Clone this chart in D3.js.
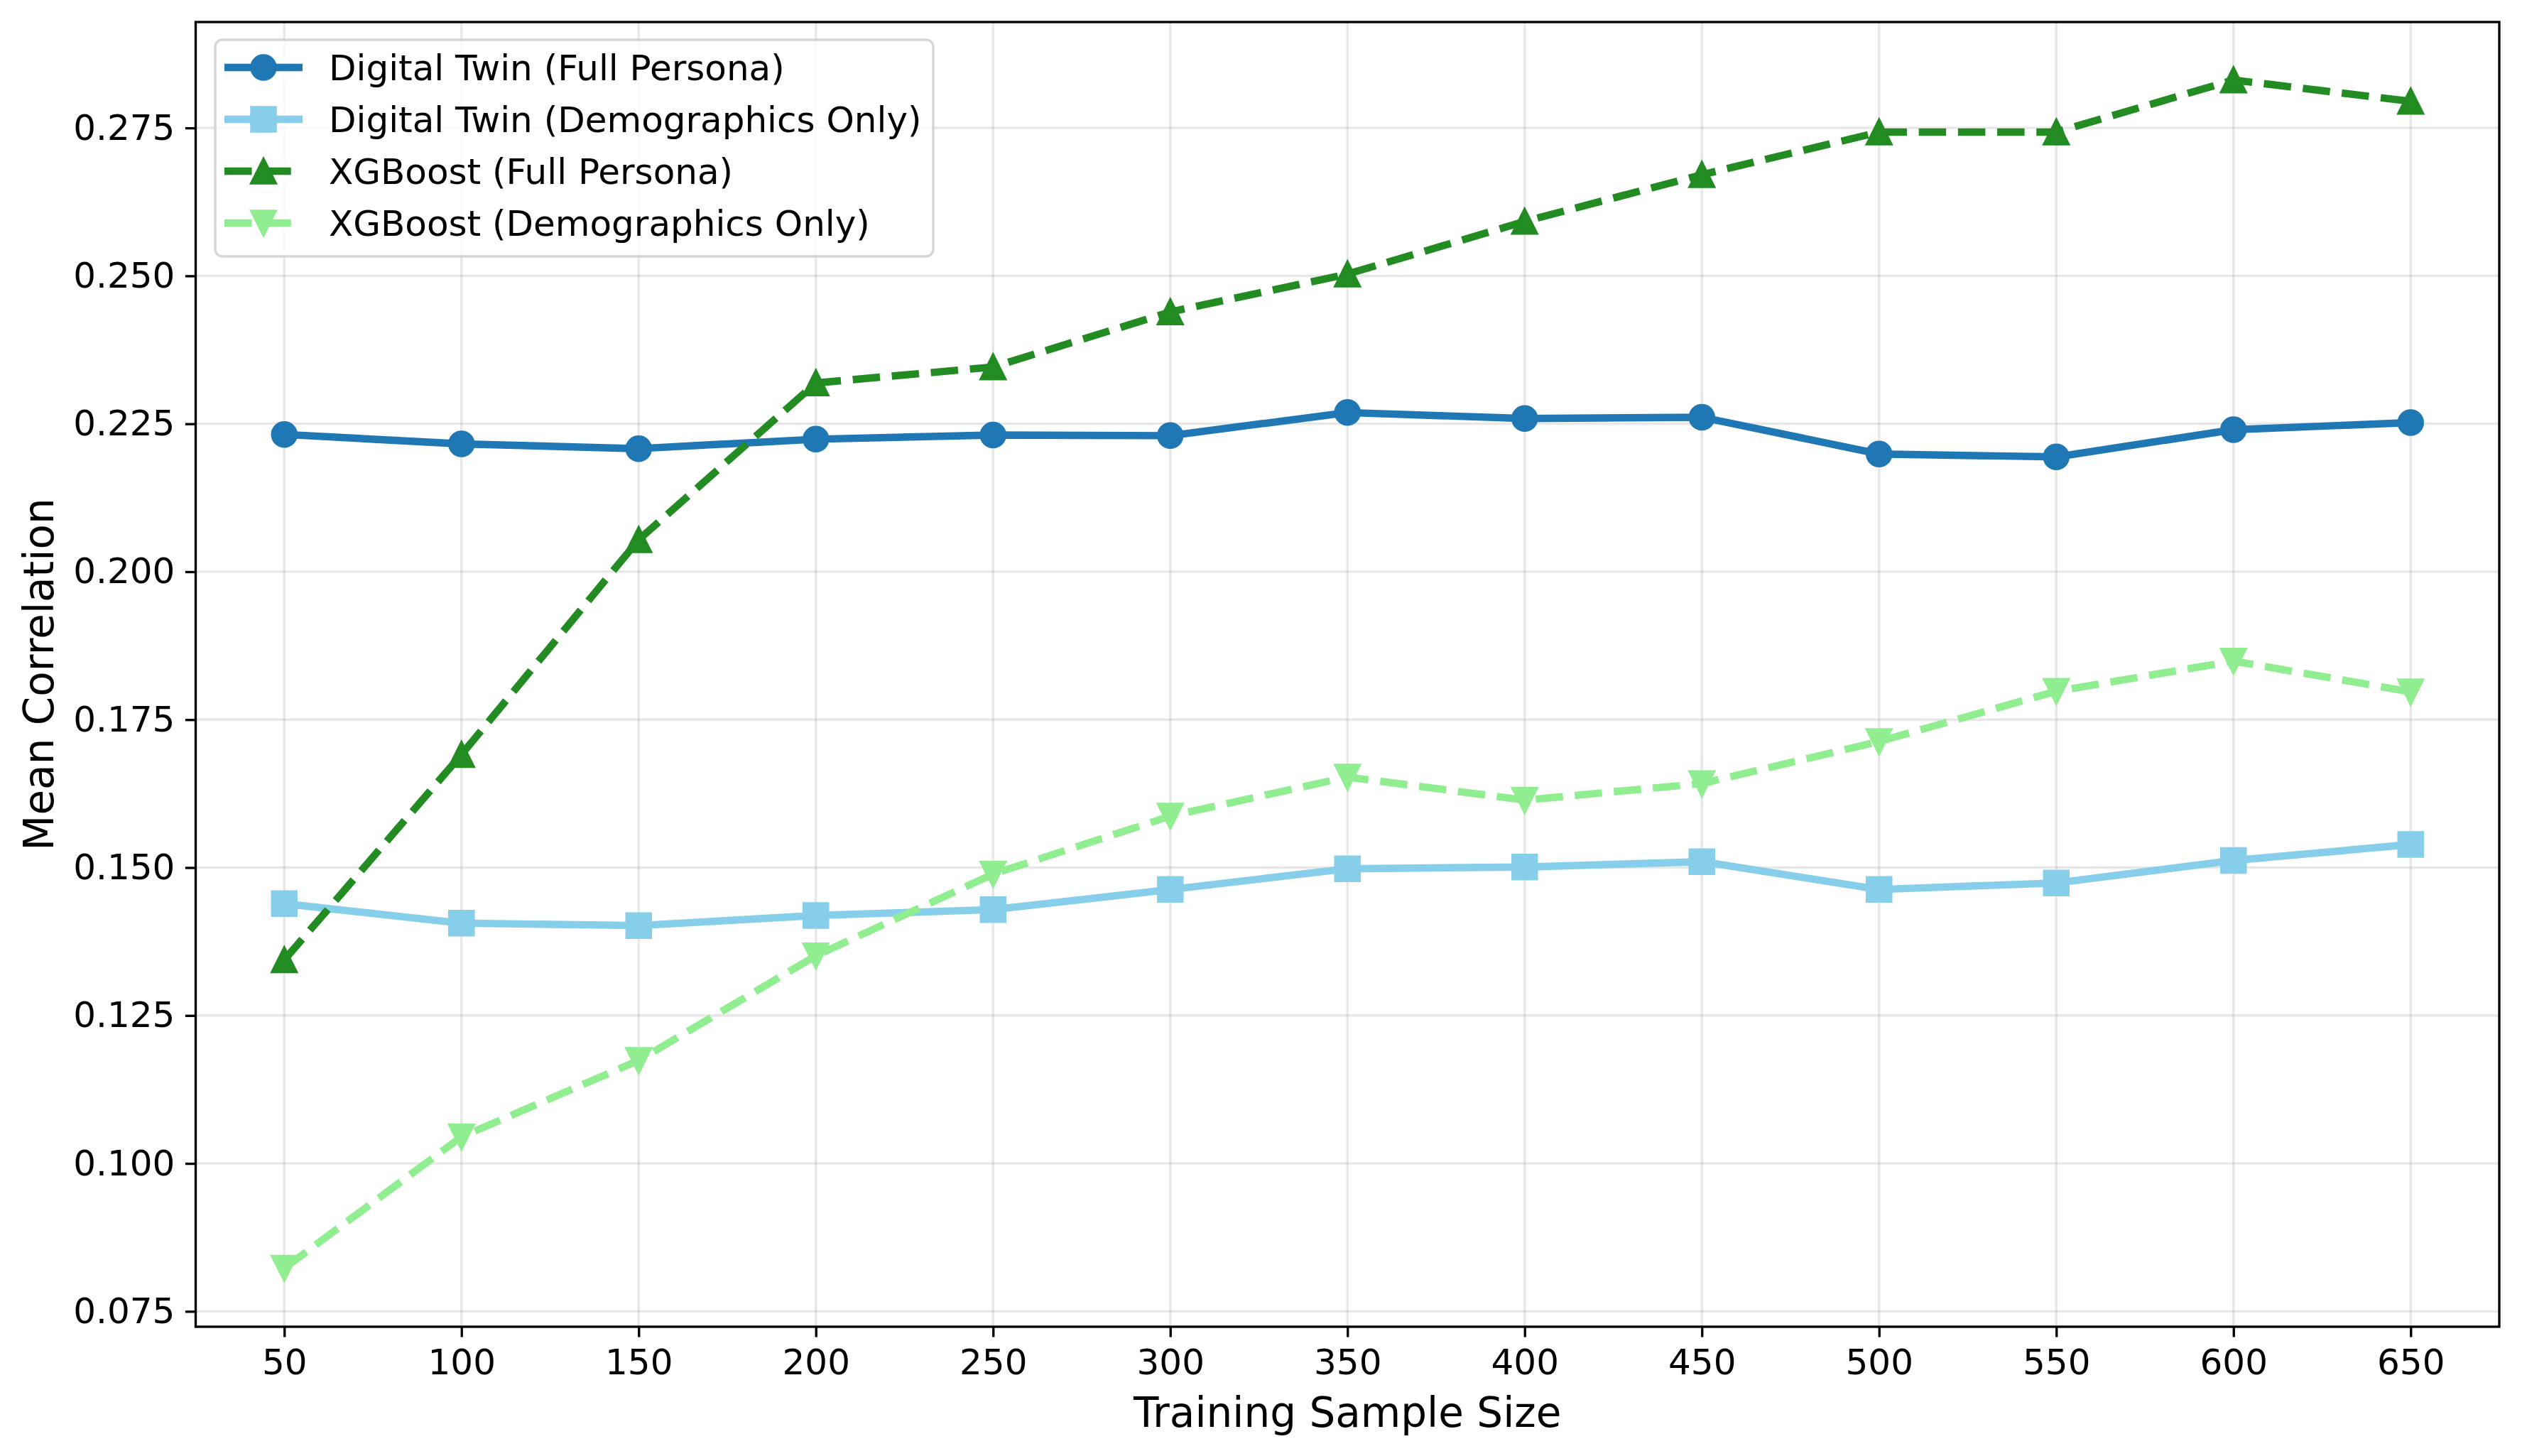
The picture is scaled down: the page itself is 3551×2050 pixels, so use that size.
<!DOCTYPE html>
<html>
<head>
<meta charset="utf-8">
<script src="https://cdn.jsdelivr.net/npm/d3@7"></script>
<style>
  body { margin: 0; background: #fff; }
  svg text { font-family: "DejaVu Sans", sans-serif; }
</style>
</head>
<body>
<svg id="chart" width="3551" height="2050"></svg>
<script>
// data
var sampleSizes = [50, 100, 150, 200, 250, 300, 350, 400, 450, 500, 550, 600, 650];
var dtFull  = [0.2232, 0.2216, 0.2208, 0.2224, 0.2231, 0.2230, 0.2269, 0.2259, 0.2261, 0.2199, 0.2194, 0.2240, 0.2252];
var dtDemo  = [0.1439, 0.1406, 0.1402, 0.1419, 0.1429, 0.1463, 0.1498, 0.1501, 0.1510, 0.1463, 0.1474, 0.1512, 0.1539];
var xgbFull = [0.1344, 0.1691, 0.2054, 0.2319, 0.2346, 0.2439, 0.2503, 0.2592, 0.2671, 0.2743, 0.2743, 0.2831, 0.2795];
var xgbDemo = [0.0823, 0.1045, 0.1174, 0.1351, 0.1489, 0.1587, 0.1653, 0.1614, 0.1642, 0.1713, 0.1798, 0.1849, 0.1797];
var seriesNames = ["Digital Twin (Full Persona)", "Digital Twin (Demographics Only)", "XGBoost (Full Persona)", "XGBoost (Demographics Only)"];
var yTicks = [0.075, 0.100, 0.125, 0.150, 0.175, 0.200, 0.225, 0.250, 0.275];

var series = [
  {name: seriesNames[0], values: dtFull,  color: "#1f77b4", marker: "circle", dashed: false},
  {name: seriesNames[1], values: dtDemo,  color: "#87ceeb", marker: "square", dashed: false},
  {name: seriesNames[2], values: xgbFull, color: "#228b22", marker: "up",     dashed: true},
  {name: seriesNames[3], values: xgbDemo, color: "#90ee90", marker: "down",   dashed: true}
];

var pLeft = 275.5, pRight = 3519, pTop = 31, pBottom = 1868;
var lw = 10.42, ms = 33.33, mew = 4.17, thin = 3.33;

var svg = d3.select("#chart");

var x = d3.scaleLinear().domain([25, 675]).range([pLeft, pRight]);
var y = d3.scaleLinear().domain([0.0724, 0.2929]).range([pBottom, pTop]);

// grid
var grid = svg.append("g");
grid.selectAll(".gx").data(sampleSizes).enter().append("line")
  .attr("x1", d => x(d)).attr("x2", d => x(d))
  .attr("y1", pTop).attr("y2", pBottom)
  .attr("stroke", "#b0b0b0").attr("stroke-opacity", 0.3).attr("stroke-width", thin);
grid.selectAll(".gy").data(yTicks).enter().append("line")
  .attr("x1", pLeft).attr("x2", pRight)
  .attr("y1", d => y(d)).attr("y2", d => y(d))
  .attr("stroke", "#b0b0b0").attr("stroke-opacity", 0.3).attr("stroke-width", thin);

// axes
var xAxis = svg.append("g")
  .attr("transform", "translate(0," + pBottom + ")")
  .call(d3.axisBottom(x).tickValues(sampleSizes).tickSize(14.6).tickPadding(14.6).tickFormat(d3.format("d")));
var yAxis = svg.append("g")
  .attr("transform", "translate(" + pLeft + ",0)")
  .call(d3.axisLeft(y).tickValues(yTicks).tickSize(14.6).tickPadding(14.6).tickFormat(d3.format(".3f")));
[xAxis, yAxis].forEach(function(a) {
  a.select(".domain").remove();
  a.selectAll(".tick line").attr("stroke", "#000").attr("stroke-width", thin);
  a.selectAll(".tick text").attr("fill", "#000").style("font-size", "50px")
    .style("font-family", "'DejaVu Sans', sans-serif");
});
xAxis.selectAll(".tick text").attr("dy", "0.76em");

function markerPath(type) {
  var h = ms / 2;
  if (type == "circle") return d3.arc()({innerRadius: 0, outerRadius: h, startAngle: 0, endAngle: 2 * Math.PI});
  if (type == "square") return "M" + (-h) + "," + (-h) + "H" + h + "V" + h + "H" + (-h) + "Z";
  if (type == "up") return "M0," + (-h) + "L" + h + "," + h + "L" + (-h) + "," + h + "Z";
  return "M0," + h + "L" + h + "," + (-h) + "L" + (-h) + "," + (-h) + "Z";
}

var line = d3.line()
  .x((d, i) => x(sampleSizes[i]))
  .y(d => y(d));

series.forEach(function(s) {
  var g = svg.append("g");
  g.append("path")
    .attr("d", line(s.values))
    .attr("fill", "none")
    .attr("stroke", s.color)
    .attr("stroke-width", lw)
    .attr("stroke-linejoin", "round")
    .attr("stroke-linecap", s.dashed ? "butt" : "square")
    .attr("stroke-dasharray", s.dashed ? "38.5,16.7" : null);
  g.selectAll("path.mk").data(s.values).enter().append("path")
    .attr("class", "mk")
    .attr("d", markerPath(s.marker))
    .attr("transform", (d, i) => "translate(" + x(sampleSizes[i]) + "," + y(d) + ")")
    .attr("fill", s.color)
    .attr("stroke", s.color)
    .attr("stroke-width", mew)
    .attr("stroke-linejoin", "miter");
});

// spines
svg.append("rect")
  .attr("x", pLeft).attr("y", pTop)
  .attr("width", pRight - pLeft).attr("height", pBottom - pTop)
  .attr("fill", "none").attr("stroke", "#000").attr("stroke-width", thin);

// axis labels
svg.append("text")
  .attr("x", (pLeft + pRight) / 2).attr("y", 2009)
  .attr("text-anchor", "middle")
  .style("font-size", "58px")
  .text("Training Sample Size");
svg.append("text")
  .attr("transform", "translate(75," + ((pTop + pBottom) / 2) + ") rotate(-90)")
  .attr("text-anchor", "middle")
  .style("font-size", "58px")
  .text("Mean Correlation");

// legend
var legend = svg.append("g");
legend.append("rect")
  .attr("x", 303).attr("y", 56)
  .attr("width", 1011).attr("height", 305)
  .attr("rx", 10).attr("ry", 10)
  .attr("fill", "#fff").attr("fill-opacity", 0.8)
  .attr("stroke", "#cccccc").attr("stroke-opacity", 0.8).attr("stroke-width", thin);

var item = legend.selectAll(".item").data(series).enter().append("g")
  .attr("transform", (d, i) => "translate(0," + (95 + i * 73) + ")");
item.append("line")
  .attr("x1", 316).attr("x2", 426)
  .attr("stroke", d => d.color)
  .attr("stroke-width", lw)
  .attr("stroke-dasharray", d => d.dashed ? "38.5,16.7" : null);
item.append("path")
  .attr("d", d => markerPath(d.marker))
  .attr("transform", "translate(371,0)")
  .attr("fill", d => d.color)
  .attr("stroke", d => d.color)
  .attr("stroke-width", mew);
item.append("text")
  .attr("x", 463).attr("y", 17.7)
  .style("font-size", "50px")
  .text(d => d.name);
</script>
</body>
</html>
